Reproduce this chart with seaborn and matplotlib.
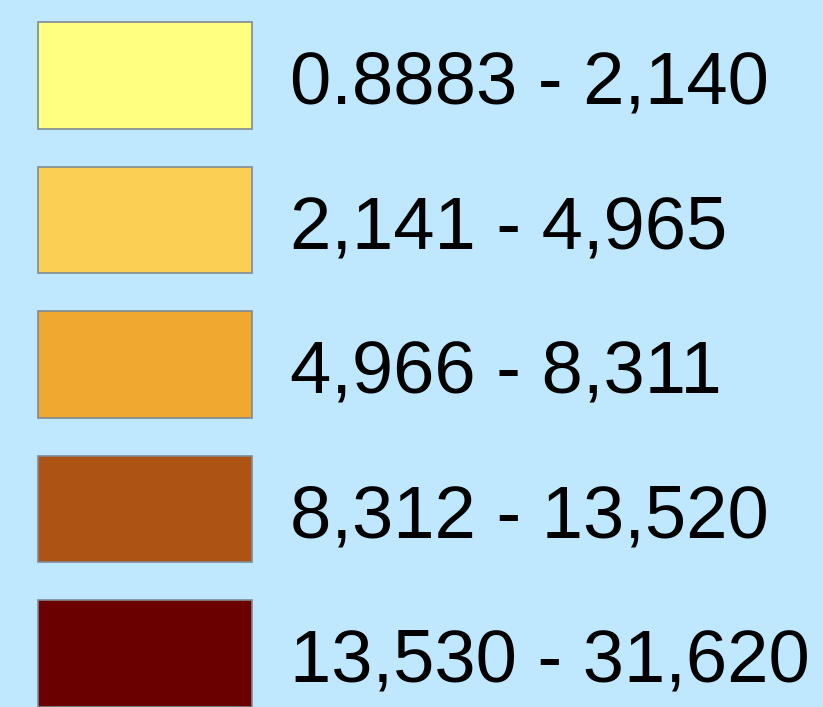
import seaborn as sns
import pandas as pd
import matplotlib.pyplot as plt

labels = ['0.8883 - 2,140', '2,141 - 4,965', '4,966 - 8,311', '8,312 - 13,520', '13,530 - 31,620']
colors = ['#FFFF80', '#FAD054', '#F0A830', '#AD5414', '#6B0000']
box_len = [1, 1, 1, 1, 1]

df = pd.DataFrame({'label': labels, 'len': box_len})

fig = plt.figure(figsize=(8.23, 7.07), dpi=100)
fig.patch.set_facecolor('#BFE8FF')
ax = fig.add_axes([0, 0, 1, 1])
ax.set_facecolor('#BFE8FF')

sns.barplot(data=df, x='len', y='label', hue='label', palette=colors, orient='h',
            width=0.74, saturation=1, edgecolor='#7F8A94', linewidth=1.2,
            legend=False, ax=ax)

# pixel layout: boxes from x=38 to 252, rows every 144.5 px starting at 75.5
ax.set_xlim(-38 / 214, (823 - 38) / 214)
ax.set_ylim((707 - 75.5) / 144.5, -75.5 / 144.5)

for i, lab in enumerate(labels):
    ax.text((290 - 38) / 214, i + 0.06, lab, fontsize=53.5, va='center', ha='left',
            family=['Liberation Sans', 'DejaVu Sans'], color='black')

ax.axis('off')
fig.savefig('out.png', dpi=100, facecolor=fig.get_facecolor())
